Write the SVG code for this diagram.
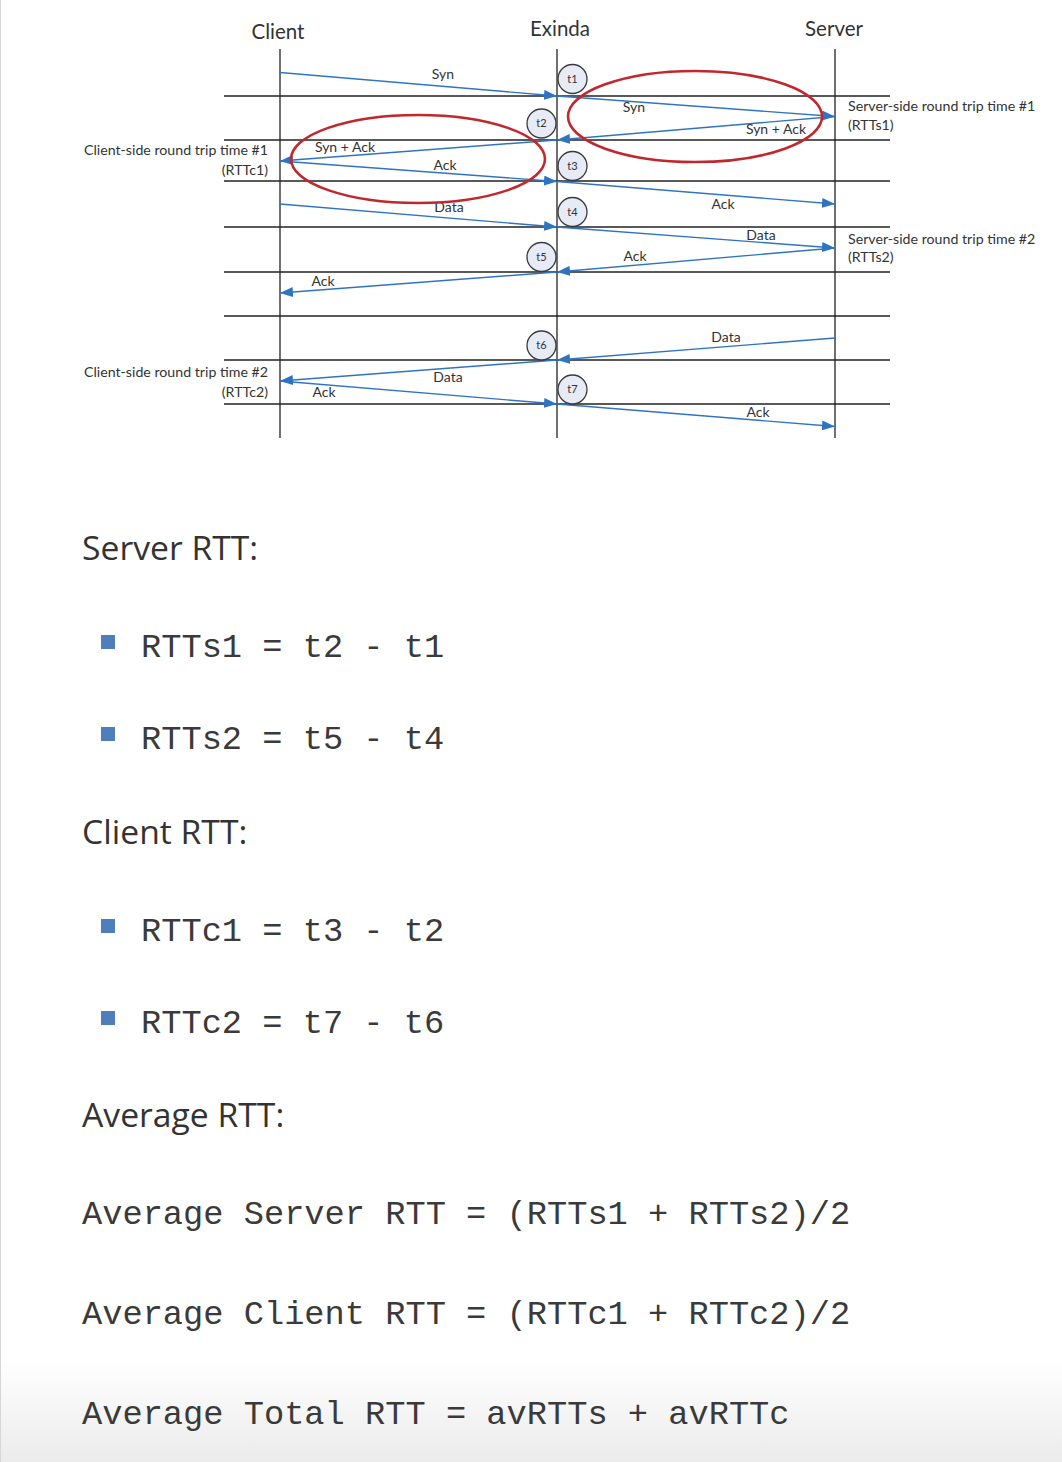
<svg xmlns="http://www.w3.org/2000/svg" width="1062" height="1462" viewBox="0 0 1062 1462">
<style>
.hdr{font-family:Lato,"Open Sans","Liberation Sans",sans-serif;font-size:20.5px;fill:#333;text-anchor:middle}
.lbl{font-family:Lato,"Liberation Sans",sans-serif;font-size:14px;fill:#333;text-anchor:middle}
.side{font-family:Lato,"Liberation Sans",sans-serif;font-size:14.2px;fill:#333}
.sideR{font-family:Lato,"Liberation Sans",sans-serif;font-size:14.2px;fill:#333;text-anchor:end}
.tl{font-family:Lato,"Liberation Sans",sans-serif;font-size:11px;fill:#333;text-anchor:middle}
.grid{stroke:#222;stroke-width:1.3;fill:none}
.msg{stroke:#2f74c2;stroke-width:1.4;fill:none;marker-end:url(#ah)}
.ring{stroke:#c0282d;stroke-width:2.6;fill:none}
.tc{fill:#e7ebf5;stroke:#3a3a3a;stroke-width:1.3}
.h2{font-family:"Open Sans","Noto Sans","Liberation Sans",sans-serif;font-size:33.7px;fill:#333}
.mono{font-family:"Liberation Mono","Courier New",monospace;font-size:33.7px;fill:#3a3a3a}
.bul{fill:#4f7ebd}
</style>
<defs>
<marker id="ah" markerUnits="userSpaceOnUse" markerWidth="13" markerHeight="10" refX="13" refY="5" orient="auto">
<path d="M0,0 L13,5 L0,10 z" fill="#2f74c2"/>
</marker>
<linearGradient id="fade" x1="0" y1="0" x2="0" y2="1">
<stop offset="0" stop-color="#ffffff"/>
<stop offset="1" stop-color="#ebebeb"/>
</linearGradient>
</defs>
<rect x="0" y="0" width="1062" height="1462" fill="#ffffff"/>
<rect x="0" y="1360" width="1062" height="102" fill="url(#fade)"/>
<line x1="0.5" y1="0" x2="0.5" y2="1462" stroke="#d6d6d6" stroke-width="1"/>

<g id="grid">
<line class="grid" x1="280" y1="49" x2="280" y2="438"/>
<line class="grid" x1="557" y1="49" x2="557" y2="438"/>
<line class="grid" x1="835" y1="49" x2="835" y2="438"/>
<line class="grid" x1="224" y1="96" x2="890" y2="96"/>
<line class="grid" x1="224" y1="140" x2="890" y2="140"/>
<line class="grid" x1="224" y1="181" x2="890" y2="181"/>
<line class="grid" x1="224" y1="227" x2="890" y2="227"/>
<line class="grid" x1="224" y1="272" x2="890" y2="272"/>
<line class="grid" x1="224" y1="316" x2="890" y2="316"/>
<line class="grid" x1="224" y1="360" x2="890" y2="360"/>
<line class="grid" x1="224" y1="404" x2="890" y2="404"/>
</g>

<g id="node-client"><text class="hdr" x="278" y="39">Client</text></g>
<g id="node-exinda"><text class="hdr" x="560" y="36">Exinda</text></g>
<g id="node-server"><text class="hdr" x="834" y="36">Server</text></g>

<g id="connectors">
<line class="msg" x1="280" y1="72.5" x2="557" y2="96"/>
<line class="msg" x1="557" y1="96" x2="835" y2="116.5"/>
<line class="msg" x1="835" y1="116.5" x2="557" y2="140"/>
<line class="msg" x1="557" y1="140" x2="280" y2="161"/>
<line class="msg" x1="280" y1="161" x2="557" y2="181.5"/>
<line class="msg" x1="557" y1="181.5" x2="835" y2="204"/>
<line class="msg" x1="280" y1="204" x2="557" y2="227"/>
<line class="msg" x1="557" y1="227" x2="835" y2="248"/>
<line class="msg" x1="835" y1="248" x2="557" y2="272"/>
<line class="msg" x1="557" y1="272" x2="280" y2="293"/>
<line class="msg" x1="835" y1="338" x2="557" y2="360"/>
<line class="msg" x1="557" y1="360" x2="280" y2="381"/>
<line class="msg" x1="280" y1="381" x2="557" y2="404"/>
<line class="msg" x1="557" y1="404" x2="835" y2="426.5"/>
</g>

<g id="msg-labels">
<text class="lbl" x="443" y="79">Syn</text>
<text class="lbl" x="634" y="112">Syn</text>
<text class="lbl" x="776" y="134">Syn + Ack</text>
<text class="lbl" x="345" y="152">Syn + Ack</text>
<text class="lbl" x="445" y="170">Ack</text>
<text class="lbl" x="723" y="209">Ack</text>
<text class="lbl" x="449" y="212">Data</text>
<text class="lbl" x="761" y="240">Data</text>
<text class="lbl" x="635" y="261">Ack</text>
<text class="lbl" x="323" y="286">Ack</text>
<text class="lbl" x="726" y="342">Data</text>
<text class="lbl" x="448" y="382">Data</text>
<text class="lbl" x="324" y="397">Ack</text>
<text class="lbl" x="758" y="417">Ack</text>
</g>

<g id="rtt-ellipses">
<ellipse class="ring" cx="418" cy="159" rx="127" ry="44"/>
<ellipse class="ring" cx="695" cy="116.5" rx="127" ry="45.5"/>
</g>

<g id="node-t1"><circle class="tc" cx="572.5" cy="79" r="14.5"/><text class="tl" x="572.5" y="82.5">t1</text></g>
<g id="node-t2"><circle class="tc" cx="541.5" cy="123.5" r="14.5"/><text class="tl" x="541.5" y="127">t2</text></g>
<g id="node-t3"><circle class="tc" cx="572.5" cy="166" r="14.5"/><text class="tl" x="572.5" y="169.5">t3</text></g>
<g id="node-t4"><circle class="tc" cx="572.5" cy="212" r="14.5"/><text class="tl" x="572.5" y="215.5">t4</text></g>
<g id="node-t5"><circle class="tc" cx="541.5" cy="257" r="14.5"/><text class="tl" x="541.5" y="260.5">t5</text></g>
<g id="node-t6"><circle class="tc" cx="541.5" cy="345.5" r="14.5"/><text class="tl" x="541.5" y="349">t6</text></g>
<g id="node-t7"><circle class="tc" cx="572.5" cy="389.5" r="14.5"/><text class="tl" x="572.5" y="393">t7</text></g>

<g id="side-labels">
<text class="side" x="848" y="111">Server-side round trip time #1</text>
<text class="side" x="848" y="130">(RTTs1)</text>
<text class="side" x="848" y="244">Server-side round trip time #2</text>
<text class="side" x="848" y="262">(RTTs2)</text>
<text class="sideR" x="268" y="155">Client-side round trip time #1</text>
<text class="sideR" x="268" y="175">(RTTc1)</text>
<text class="sideR" x="268" y="377">Client-side round trip time #2</text>
<text class="sideR" x="268" y="397">(RTTc2)</text>
</g>

<g id="formulas">
<text class="h2" x="82" y="560">Server RTT:</text>
<rect class="bul" x="101" y="635" width="14" height="14"/>
<text class="mono" x="141" y="657">RTTs1 = t2 - t1</text>
<rect class="bul" x="101" y="727" width="14" height="14"/>
<text class="mono" x="141" y="749">RTTs2 = t5 - t4</text>
<text class="h2" x="82" y="844">Client RTT:</text>
<rect class="bul" x="101" y="919" width="14" height="14"/>
<text class="mono" x="141" y="941">RTTc1 = t3 - t2</text>
<rect class="bul" x="101" y="1011" width="14" height="14"/>
<text class="mono" x="141" y="1033">RTTc2 = t7 - t6</text>
<text class="h2" x="82" y="1127">Average RTT:</text>
<text class="mono" x="82" y="1224">Average Server RTT = (RTTs1 + RTTs2)/2</text>
<text class="mono" x="82" y="1324">Average Client RTT = (RTTc1 + RTTc2)/2</text>
<text class="mono" x="82" y="1424">Average Total RTT = avRTTs + avRTTc</text>
</g>
</svg>
